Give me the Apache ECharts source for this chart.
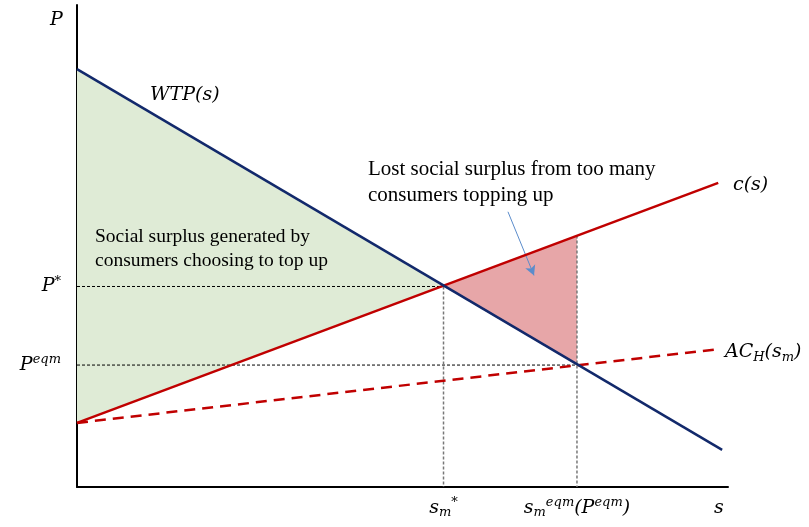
<!DOCTYPE html>
<html><head><meta charset="utf-8">
<script src="https://cdn.jsdelivr.net/npm/echarts@6/dist/echarts.min.js"></script>
<style>html,body{margin:0;padding:0;background:#fff}#c{width:809px;height:527px}</style>
</head><body><div id="c"></div>
<script>
// ---- data (axis units: s on x, P on y) ----
const wtpLine  = [[0, 86.7], [99.1, 7.7]];
const costLine = [[0, 13.3], [98.5, 63.1]];
const acLine   = [[0, 13.3], [98.5, 28.6]];
const sStar = 56.3, pStar = 41.6;
const sEqm = 76.8, pEqm = 25.3, cAtEqm = 52.2;
const greenArea = [[0, 86.7], [0, 13.3], [sStar, pStar]];
const redArea   = [[sStar, pStar], [sEqm, cAtEqm], [sEqm, pEqm]];
const arrowFrom = [66.2, 57.1], arrowTo = [70.2, 43.9];
const xTickValues = [sStar, sEqm, 98.6];
const xTickLabels = ['{i|s}{sub|m}{sup|*}', '{i|s}{sub|m}{sup|eqm}{i|(P}{sup|eqm}{i|)}', '{i|s}'];
const yTickValues = [pStar, pEqm];
const yTickLabels = ['{i|P}{sup|*}', '{i|P}{sup|eqm}'];

const MATH = 'DejaVu Serif';
const rich = {
  i:   {fontFamily: MATH, fontStyle: 'italic', fontSize: 19, color: '#000', lineHeight: 28},
  sub: {fontFamily: MATH, fontStyle: 'italic', fontSize: 13, color: '#000', lineHeight: 28, padding: [10, 0, 0, 0]},
  sup: {fontFamily: MATH, fontStyle: 'italic', fontSize: 13, color: '#000', lineHeight: 28, padding: [0, 0, 10, 0]}
};
function pick(values, labels, v) {
  let best = 0;
  values.forEach((x, k) => { if (Math.abs(x - v) < Math.abs(values[best] - v)) best = k; });
  return labels[best];
}
function polygonSeries(pts, fill) {
  return {
    type: 'custom', silent: true, z: 1,
    data: pts,
    renderItem: function (params, api) {
      if (params.dataIndex !== 0) return null;
      return {type: 'polygon', shape: {points: pts.map(p => api.coord(p))}, style: {fill: fill}};
    }
  };
}
function seg(pts, color, width, type, z) {
  return {type: 'line', data: pts, symbol: 'none', silent: true, z: z,
    lineStyle: {color: color, width: width, type: type}};
}
const mathFont = 'italic 19px "DejaVu Serif"';
const chart = echarts.init(document.getElementById('c'));
chart.setOption({
  animation: false,
  grid: {left: 77, right: 81, top: 5, bottom: 40},
  xAxis: {type: 'value', min: 0, max: 100,
    axisLine: {show: true, onZero: false, lineStyle: {color: '#000', width: 2}},
    axisTick: {show: false}, splitLine: {show: false},
    axisLabel: {customValues: xTickValues, margin: 7, rich: rich,
      formatter: v => pick(xTickValues, xTickLabels, v)}},
  yAxis: {type: 'value', min: 0, max: 100,
    axisLine: {show: true, onZero: false, lineStyle: {color: '#000', width: 2}},
    axisTick: {show: false}, splitLine: {show: false},
    axisLabel: {customValues: yTickValues, margin: 16, rich: rich,
      formatter: v => pick(yTickValues, yTickLabels, v)}},
  series: [
    polygonSeries(greenArea, '#DFEBD6'),
    polygonSeries(redArea, '#E7A6A8'),
    seg([[0, pStar], [sStar, pStar]], '#000', 1, [3, 2], 3),
    seg([[0, pEqm], [sEqm, pEqm]], '#000', 1, [3, 2], 3),
    seg([[sStar, pStar], [sStar, 0]], '#777', 1.5, [3, 2], 3),
    seg([[sEqm, cAtEqm], [sEqm, 0]], '#777', 1.5, [3, 2], 3),
    seg(acLine, '#C00000', 2.5, [11, 7], 5),
    seg(costLine, '#C00000', 2.5, 'solid', 6),
    seg(wtpLine, '#12296B', 2.5, 'solid', 7),
    {type: 'line', data: [], silent: true, z: 8,
      markLine: {silent: true, symbol: ['none', 'arrow'], symbolSize: [8, 10], label: {show: false},
        lineStyle: {color: '#5B8CCB', width: 1, type: 'solid'},
        data: [[{coord: arrowFrom}, {coord: arrowTo}]]}}
  ],
  graphic: [
    {type: 'text', z: 100, left: 50, top: 11, style: {text: 'P', font: mathFont, fill: '#000'}},
    {type: 'text', z: 100, left: 150, top: 86, style: {text: 'WTP(s)', font: mathFont, fill: '#000'}},
    {type: 'text', z: 100, left: 733, top: 176, style: {text: 'c(s)', font: mathFont, fill: '#000'}},
    {type: 'text', z: 100, left: 725, top: 341, style: {rich: rich, text: '{i|AC}{sub|H}{i|(s}{sub|m}{i|)}'}},
    {type: 'text', z: 100, left: 95, top: 225, style: {text: 'Social surplus generated by\nconsumers choosing to top up',
      font: '19.5px "Liberation Serif"', lineHeight: 24, fill: '#000'}},
    {type: 'text', z: 100, left: 368, top: 156, style: {text: 'Lost social surplus from too many\nconsumers topping up',
      font: '21px "Liberation Serif"', lineHeight: 26, fill: '#000'}}
  ]
});
</script></body></html>
